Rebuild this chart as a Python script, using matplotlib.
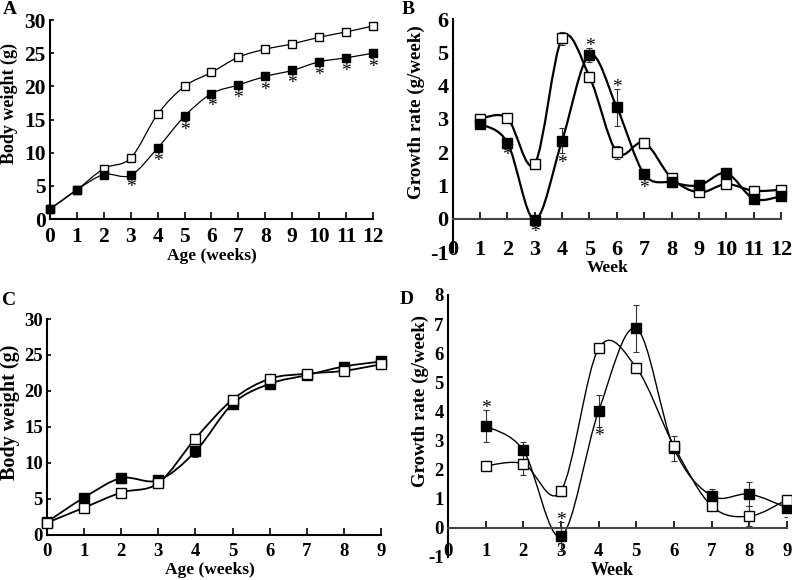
import numpy as np
import matplotlib
matplotlib.use("Agg")
import matplotlib.pyplot as plt
from matplotlib.path import Path
from matplotlib.patches import PathPatch

plt.rcParams['font.family'] = ['Liberation Serif', 'DejaVu Serif']
plt.rcParams['font.weight'] = 'bold'
plt.rcParams['axes.unicode_minus'] = False

# ---------------- data ----------------
weeksA = list(range(0, 13))
A_open = [1.5, 4.4, 7.6, 9.2, 15.8, 20.0, 22.1, 24.4, 25.6, 26.4, 27.4, 28.2, 29.1]
A_open_err = [0.2, 0.2, 0.3, 0.3, 0.3, 0.3, 0.4, 0.4, 0.4, 0.3, 0.4, 0.4, 0.3]
A_fill = [1.5, 4.4, 6.7, 6.6, 10.7, 15.5, 18.9, 20.2, 21.5, 22.4, 23.7, 24.3, 25.0]
A_fill_err = [0.2, 0.2, 0.3, 0.3, 0.5, 0.7, 0.4, 0.5, 0.6, 0.5, 0.6, 0.6, 0.7]
A_stars_below = [3, 4, 5, 6, 7, 8, 9, 10, 11, 12]

weeksB = list(range(1, 13))
B_open = [3.0, 3.02, 1.65, 5.42, 4.27, 2.0, 2.29, 1.22, 0.79, 1.04, 0.84, 0.87]
B_open_err = [0.1, 0.08, 0.12, 0.2, 0.15, 0.2, 0.15, 0.12, 0.1, 0.12, 0.1, 0.12]
B_fill = [2.85, 2.29, -0.03, 2.35, 4.92, 3.35, 1.34, 1.09, 1.0, 1.37, 0.6, 0.67]
B_fill_err = [0.1, 0.1, 0.08, 0.38, 0.22, 0.55, 0.12, 0.15, 0.1, 0.15, 0.1, 0.1]
B_stars_below = [2, 3, 4, 7]
B_stars_above = [5, 6]

weeksC = list(range(0, 10))
C_fill = [1.8, 5.2, 7.9, 7.6, 11.6, 18.2, 21.0, 22.2, 23.4, 24.1]
C_fill_err = [0.2, 0.3, 0.7, 0.3, 0.8, 0.7, 0.7, 0.3, 0.4, 0.3]
C_open = [1.7, 3.8, 5.9, 7.2, 13.4, 18.8, 21.7, 22.4, 22.8, 23.7]
C_open_err = [0.2, 0.2, 0.3, 0.2, 0.3, 0.3, 0.3, 0.3, 0.4, 0.3]

weeksD = list(range(1, 10))
D_fill = [3.5, 2.66, -0.29, 4.02, 6.85, 2.73, 1.1, 1.16, 0.69]
D_fill_err = [0.55, 0.3, 0.5, 0.55, 0.8, 0.42, 0.25, 0.42, 0.3]
D_open = [2.13, 2.2, 1.27, 6.17, 5.5, 2.81, 0.75, 0.4, 0.97]
D_open_err = [0.15, 0.4, 0.18, 0.1, 0.1, 0.1, 0.15, 0.35, 0.1]
D_stars_above = [1, 3]
D_stars_below = [4]


def smooth_path(x, y):
    """Catmull-Rom spline through the data points drawn as Bezier path."""
    P = np.column_stack([x, y]).astype(float)
    n = len(P)
    verts = [P[0]]
    codes = [Path.MOVETO]
    for i in range(n - 1):
        p0 = P[i - 1] if i > 0 else P[i]
        p1 = P[i]
        p2 = P[i + 1]
        p3 = P[i + 2] if i + 2 < n else P[i + 1]
        c1 = p1 + (p2 - p0) / 6.0
        c2 = p2 - (p3 - p1) / 6.0
        verts += [c1, c2, p2]
        codes += [Path.CURVE4] * 3
    return Path(verts, codes)


def draw_series(ax, x, y, err, filled, lw, ms, elw=0.8):
    ax.add_patch(PathPatch(smooth_path(x, y), facecolor='none', edgecolor='black',
                           lw=lw, zorder=2))
    ax.errorbar(x, y, yerr=err, fmt='none', ecolor='#333333', elinewidth=elw,
                capsize=2.5, capthick=elw, zorder=3)
    ax.plot(x, y, linestyle='none', marker='s', ms=ms,
            mfc='black' if filled else 'white', mec='black', mew=1.0, zorder=4,
            clip_on=False)


def stars(ax, x, y, err, idx_list, xs, above, size, off=5):
    for k in idx_list:
        i = xs.index(k)
        if above:
            ax.annotate('*', (k, y[i] + err[i]), xytext=(0, off), textcoords='offset points',
                        ha='center', va='bottom', fontsize=size, fontweight='normal')
        else:
            ax.annotate('*', (k, y[i] - err[i]), xytext=(0, -off), textcoords='offset points',
                        ha='center', va='top', fontsize=size, fontweight='normal')


def style(ax):
    for s in ['top', 'right']:
        ax.spines[s].set_visible(False)
    ax.spines['left'].set_linewidth(1.5)
    ax.spines['bottom'].set_linewidth(1.5)


fig = plt.figure(figsize=(7.92, 5.80), dpi=100)

# ---------------- Panel A ----------------
axA = fig.add_axes([0.0631, 0.6224, 0.4078, 0.3431])
style(axA)
draw_series(axA, weeksA, A_open, A_open_err, False, 0.9, 5.5)
draw_series(axA, weeksA, A_fill, A_fill_err, True, 0.9, 6)
stars(axA, weeksA, A_fill, A_fill_err, A_stars_below, weeksA, False, 14, off=1)
axA.set_xlim(0, 12)
axA.set_ylim(0, 30)
axA.set_xticks(weeksA)
axA.set_yticks(range(0, 31, 5))
axA.tick_params(axis='both', direction='in', labelsize=15.5, length=5, width=1.2)
axA.tick_params(axis='x', pad=6)
axA.tick_params(axis='y', pad=3, length=3)
axA.set_xlabel('Age (weeks)', fontsize=12.5, fontweight='bold')
axA.set_ylabel('Body weight (g)', fontsize=13, fontweight='bold')
axA.xaxis.set_label_coords(0.5, -0.146)
axA.yaxis.set_label_coords(-0.099, 0.58)
fig.text(0.004, 0.999, 'A', fontsize=14, fontweight='bold', va='top', ha='left')

# ---------------- Panel B ----------------
axB = fig.add_axes([0.5715, 0.5655, 0.4146, 0.4017])
style(axB)
axB.spines['bottom'].set_position(('data', 0))
axB.spines['bottom'].set_color('#444444')
draw_series(axB, weeksB, B_open, B_open_err, False, 1.6, 6.5)
draw_series(axB, weeksB, B_fill, B_fill_err, True, 1.6, 7)
stars(axB, weeksB, B_fill, B_fill_err, B_stars_below, weeksB, False, 14, off=1)
stars(axB, weeksB, B_fill, B_fill_err, B_stars_above, weeksB, True, 14, off=-5)
axB.set_xlim(0, 12)
axB.set_ylim(-1, 6)
axB.set_xticks(range(0, 13))
axB.set_yticks(range(-1, 7))
axB.tick_params(axis='both', direction='in', labelsize=16, length=5, width=1.2)
axB.tick_params(axis='x', pad=15)
axB.tick_params(axis='y', length=0, pad=3)
axB.set_xlabel('Week', fontsize=12.5, fontweight='bold')
axB.set_ylabel('Growth rate (g/week)', fontsize=13.7, fontweight='bold')
axB.xaxis.set_label_coords(0.473, -0.035)
axB.yaxis.set_label_coords(-0.084, 0.60)
fig.text(0.507, 0.999, 'B', fontsize=14, fontweight='bold', va='top', ha='left')

# ---------------- Panel C ----------------
axC = fig.add_axes([0.0593, 0.0776, 0.4217, 0.3724])
style(axC)
draw_series(axC, weeksC, C_fill, C_fill_err, True, 1.3, 7.5)
draw_series(axC, weeksC, C_open, C_open_err, False, 1.3, 7.5)
axC.set_xlim(0, 9)
axC.set_ylim(0, 30)
axC.set_xticks(weeksC)
axC.set_yticks(range(0, 31, 5))
axC.tick_params(axis='both', direction='in', labelsize=13.5, length=5, width=1.2)
axC.tick_params(axis='x', pad=6)
axC.tick_params(axis='y', pad=3, length=3)
axC.set_xlabel('Age (weeks)', fontsize=12.5, fontweight='bold')
axC.set_ylabel('Body weight (g)', fontsize=14.5, fontweight='bold')
axC.xaxis.set_label_coords(0.488, -0.125)
axC.yaxis.set_label_coords(-0.082, 0.57)
fig.text(0.003, 0.497, 'C', fontsize=14, fontweight='bold', va='top', ha='left')

# ---------------- Panel D ----------------
axD = fig.add_axes([0.5657, 0.0397, 0.428, 0.4517])
style(axD)
axD.spines['bottom'].set_position(('data', 0))
axD.spines['bottom'].set_color('#444444')
draw_series(axD, weeksD, D_fill, D_fill_err, True, 1.0, 6.5)
draw_series(axD, weeksD, D_open, D_open_err, False, 1.0, 6.5)
stars(axD, weeksD, D_fill, D_fill_err, D_stars_above, weeksD, True, 14, off=-5)
stars(axD, weeksD, D_fill, D_fill_err, D_stars_below, weeksD, False, 14, off=1)
axD.set_xlim(0, 9)
axD.set_ylim(-1, 8)
axD.set_xticks(range(0, 10))
axD.set_yticks(range(-1, 9))
axD.tick_params(axis='both', direction='in', labelsize=13.5, length=5, width=1.2)
axD.tick_params(axis='x', pad=11)
axD.tick_params(axis='y', length=0, pad=3)
axD.set_xlabel('Week', fontsize=13, fontweight='bold')
axD.set_ylabel('Growth rate (g/week)', fontsize=13.5, fontweight='bold')
axD.xaxis.set_label_coords(0.484, -0.018)
axD.yaxis.set_label_coords(-0.056, 0.595)
fig.text(0.504, 0.499, 'D', fontsize=14, fontweight='bold', va='top', ha='left')

fig.savefig('out.png', dpi=100)
